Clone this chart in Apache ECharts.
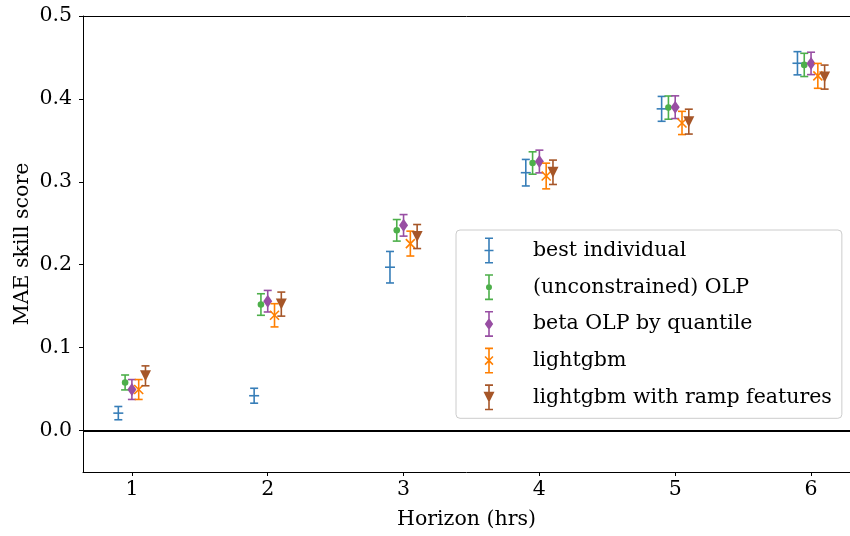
<!DOCTYPE html>
<html>
<head>
<meta charset="utf-8">
<script src="https://cdn.jsdelivr.net/npm/echarts@6/dist/echarts.min.js"></script>
<style>html,body{margin:0;padding:0;background:#fff}#c{width:850px;height:536px}</style>
</head>
<body>
<div id="c"></div>
<script>
// ---- data ----
const horizons = [1, 2, 3, 4, 5, 6];
const seriesNames = ['best individual', '(unconstrained) OLP', 'beta OLP by quantile', 'lightgbm', 'lightgbm with ramp features'];
const bestIndividual    = [0.021, 0.042, 0.197, 0.311, 0.388, 0.443];
const bestIndividualErr = [0.008, 0.009, 0.019, 0.016, 0.015, 0.014];
const olp               = [0.058, 0.152, 0.2415, 0.3227, 0.3895, 0.441];
const olpErr            = [0.009, 0.013, 0.013, 0.0135, 0.014, 0.014];
const betaOlp           = [0.0495, 0.156, 0.2475, 0.3245, 0.390, 0.4428];
const betaOlpErr        = [0.012, 0.013, 0.013, 0.0137, 0.0137, 0.0135];
const lightgbm          = [0.0495, 0.139, 0.2255, 0.307, 0.371, 0.4278];
const lightgbmErr       = [0.012, 0.014, 0.015, 0.0155, 0.014, 0.015];
const lightgbmRamp      = [0.066, 0.1525, 0.234, 0.3115, 0.3726, 0.4263];
const lightgbmRampErr   = [0.012, 0.0145, 0.0145, 0.0147, 0.015, 0.0145];
const yTicks = [0, 0.1, 0.2, 0.3, 0.4, 0.5];

// ---- style ----
const FONT = 'DejaVu Serif';
const FS = 20.5;
const colors = ['#377eb8', '#4daf4a', '#984ea3', '#ff7f00', '#a65628'];
const offsets = [-0.1, -0.05, 0, 0.05, 0.1];
const markers = ['hline', 'circle', 'diamond', 'x', 'tri'];
const values = [bestIndividual, olp, betaOlp, lightgbm, lightgbmRamp];
const errs = [bestIndividualErr, olpErr, betaOlpErr, lightgbmErr, lightgbmRampErr];

function markerShape(type, cx, cy, color) {
  const lw = 1.6;
  switch (type) {
    case 'hline':
      return {type: 'line', shape: {x1: cx - 5, y1: cy, x2: cx + 5, y2: cy}, style: {stroke: color, lineWidth: lw}};
    case 'circle':
      return {type: 'circle', shape: {cx: cx, cy: cy, r: 3.3}, style: {fill: color}};
    case 'diamond':
      return {type: 'polygon', shape: {points: [[cx, cy - 6.5], [cx + 4.5, cy], [cx, cy + 6.5], [cx - 4.5, cy]]}, style: {fill: color}};
    case 'x':
      return {type: 'group', children: [
        {type: 'line', shape: {x1: cx - 4.5, y1: cy - 4.5, x2: cx + 4.5, y2: cy + 4.5}, style: {stroke: color, lineWidth: lw}},
        {type: 'line', shape: {x1: cx - 4.5, y1: cy + 4.5, x2: cx + 4.5, y2: cy - 4.5}, style: {stroke: color, lineWidth: lw}}
      ]};
    case 'tri':
      return {type: 'polygon', shape: {points: [[cx - 5.5, cy - 5.5], [cx + 5.5, cy - 5.5], [cx, cy + 5.5]]}, style: {fill: color}};
  }
}

// legend icons (path space 12 x 26; corner points fix bounding box)
const box = 'M0 0 L0 0 Z M12 26 L12 26 Z ';
const bar = 'M2 0 H10 V1.6 H6.8 V24.4 H10 V26 H2 V24.4 H5.2 V1.6 H2 Z ';
const iconMarks = {
  hline: 'M1.5 12.2 H10.5 V13.8 H1.5 Z',
  circle: 'M6 10 A3 3 0 1 1 5.99 10 Z',
  diamond: 'M6 7 L10.2 13 L6 19 L1.8 13 Z',
  x: 'M1.5 9.5 L2.6 8.4 L6 11.9 L9.4 8.4 L10.5 9.5 L7.1 13 L10.5 16.5 L9.4 17.6 L6 14.1 L2.6 17.6 L1.5 16.5 L4.9 13 Z',
  tri: 'M0.5 7.5 L11.5 7.5 L6 18.5 Z'
};

const series = seriesNames.map(function (name, i) {
  const data = horizons.map(function (h, k) { return [h, values[i][k], errs[i][k]]; });
  const s = {
    name: name,
    type: 'custom',
    itemStyle: {color: colors[i]},
    data: data,
    z: 10 + i,
    renderItem: function (params, api) {
      const h = api.value(0), v = api.value(1), e = api.value(2);
      const c = api.coord([h + offsets[i], v]);
      const t = api.coord([h + offsets[i], v + e]);
      const b = api.coord([h + offsets[i], v - e]);
      const col = colors[i];
      return {type: 'group', children: [
        {type: 'line', shape: {x1: c[0], y1: t[1], x2: c[0], y2: b[1]}, style: {stroke: col, lineWidth: 1.6}},
        {type: 'line', shape: {x1: c[0] - 4, y1: t[1], x2: c[0] + 4, y2: t[1]}, style: {stroke: col, lineWidth: 1.6}},
        {type: 'line', shape: {x1: c[0] - 4, y1: b[1], x2: c[0] + 4, y2: b[1]}, style: {stroke: col, lineWidth: 1.6}},
        markerShape(markers[i], c[0], c[1], col)
      ]};
    }
  };
  if (i === 0) {
    s.markLine = {
      silent: true, symbol: 'none', label: {show: false},
      lineStyle: {color: '#000', width: 1.8, type: 'solid'},
      data: [{yAxis: 0}], z: 5
    };
  }
  return s;
});

const chart = echarts.init(document.getElementById('c'), null, {renderer: 'canvas'});
chart.setOption({
  animation: false,
  backgroundColor: '#fff',
  grid: {left: 83, top: 16, right: 0, bottom: 64, show: false},
  xAxis: [{
    type: 'value', min: 0.64, max: 6.2868,
    name: 'Horizon (hrs)', nameLocation: 'middle', nameGap: 37, nameMoveOverlap: false,
    nameTextStyle: {fontFamily: FONT, fontSize: FS, color: '#000'},
    axisLine: {onZero: false, lineStyle: {color: '#000', width: 1}},
    axisTick: {show: true, length: 4, lineStyle: {color: '#000', width: 1}, customValues: horizons},
    axisLabel: {customValues: horizons, fontFamily: FONT, fontSize: FS, color: '#000', margin: 7},
    splitLine: {show: false}
  }, {
    type: 'value', min: 0.64, max: 6.2868, position: 'top',
    axisLine: {show: true, onZero: false, lineStyle: {color: '#000', width: 1}},
    axisTick: {show: false}, axisLabel: {show: false}, splitLine: {show: false}
  }],
  yAxis: {
    type: 'value', min: -0.05, max: 0.5,
    name: 'MAE skill score', nameLocation: 'middle', nameGap: 50, nameMoveOverlap: false,
    nameTextStyle: {fontFamily: FONT, fontSize: FS, color: '#000'},
    axisLine: {show: true, onZero: false, lineStyle: {color: '#000', width: 1}},
    axisTick: {show: true, length: 4, lineStyle: {color: '#000', width: 1}, customValues: yTicks},
    axisLabel: {customValues: yTicks, fontFamily: FONT, fontSize: FS, color: '#000', margin: 11,
      formatter: function (v) { return v.toFixed(1); }},
    splitLine: {show: false}
  },
  legend: {
    orient: 'vertical', left: 456, top: 230,
    padding: [7.5, 10, 8, 27],
    itemWidth: 12, itemHeight: 26, itemGap: 10.7,
    borderColor: '#cccccc', borderWidth: 1, borderRadius: 4,
    backgroundColor: 'rgba(255,255,255,0.85)',
    textStyle: {fontFamily: FONT, fontSize: FS, color: '#000', padding: [0, 0, 0, 33]},
    data: seriesNames.map(function (n, i) { return {name: n, icon: 'path://' + box + bar + iconMarks[markers[i]]}; })
  },
  series: series
});
</script>
</body>
</html>
